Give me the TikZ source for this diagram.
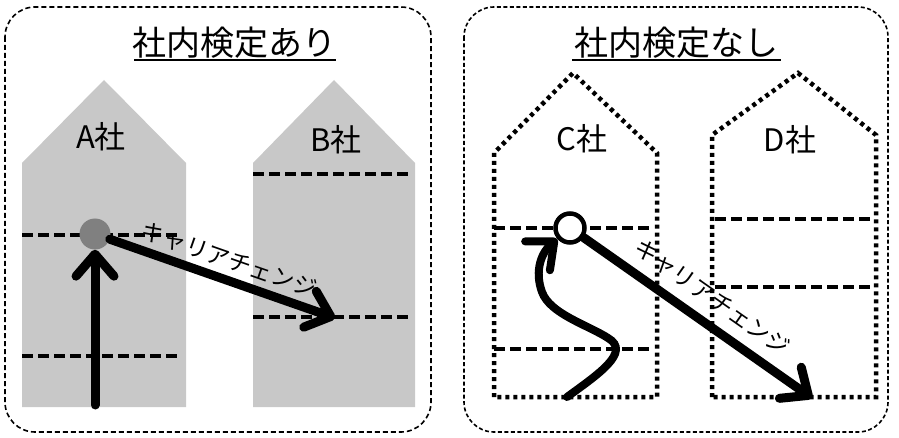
\documentclass[tikz,border=0pt]{standalone}
\usepackage{fontspec}
\setmainfont{Noto Sans CJK JP}
\usetikzlibrary{arrows.meta}
\definecolor{housegray}{HTML}{C8C8C8}
\definecolor{dotgray}{HTML}{808080}
\begin{document}
\begin{tikzpicture}[x=1pt,y=-1pt,
  panel/.style={draw=black,line width=1.6pt,dash pattern=on 5pt off 3pt,rounded corners=30pt},
  panelb/.style={draw=black,line width=1.6pt,dash pattern=on 4pt off 2.5pt,rounded corners=30pt},
  title/.style={font=\fontsize{34}{34}\selectfont,inner sep=0pt},
  house/.style={fill=housegray,draw=none},
  dhouse/.style={draw=black,line width=4.5pt,dash pattern=on 4pt off 4pt},
  level/.style={draw=black,line width=3.5pt,dash pattern=on 11pt off 5pt},
  hlabel/.style={font=\fontsize{31}{31}\selectfont,inner sep=0pt},
  thick arrow/.style={line width=9pt,line cap=round,-{Straight Barb[length=22pt,width=38pt,round]}},
  ctext/.style={font=\fontsize{23}{23}\selectfont,inner sep=2pt,sloped}
]
\useasboundingbox (0,0) rectangle (899,438);
% panels
\draw[panel] (5,7) rectangle (431,432);
\draw[panelb] (464,7) rectangle (888,432);
% titles
\node[title] (t1) at (234,43) {社内検定あり};
\draw[line width=1.8pt] (134,60) -- (336,60);
\node[title] (t2) at (676,43) {社内検定なし};
\draw[line width=1.8pt] (572,60) -- (781,60);
% left houses
\path[house] (22,407) -- (22,163) -- (104,80) -- (186,163) -- (186,407) -- cycle;
\path[house] (253,407) -- (253,163) -- (334,80) -- (415,163) -- (415,407) -- cycle;
\node[hlabel] (la) at (101,137) {A社};
\node[hlabel] (lb) at (336,140) {B社};
\draw[level] (22,235) -- (181,235);
\draw[level] (22,356) -- (180,356);
\draw[level] (253,174) -- (408,174);
\draw[level] (253,317) -- (412,317);
% right houses
\draw[dhouse] (494,397) -- (494,153) -- (573,73) -- (657,153) -- (657,397) -- cycle;
\draw[dhouse] (712,397) -- (712,135) -- (798,73) -- (876,135) -- (876,397) -- cycle;
\node[hlabel] (lc) at (582,139) {C社};
\node[hlabel] (ld) at (790,140) {D社};
\draw[level] (494,228) -- (652,228);
\draw[level] (494,349) -- (652,349);
\draw[level] (715,219) -- (873,219);
\draw[level] (715,287) -- (873,287);
% left movement
\node[circle,fill=dotgray,minimum size=31pt,inner sep=0pt] (p) at (95,234) {};
\coordinate (a0) at (95,405);
\coordinate (bt) at (335,318);
\draw[thick arrow] (a0) -- (p.south);
\draw[thick arrow] (p) -- node[ctext,above,pos=0.5,yshift=3pt] {キャリアチェンジ} (bt);
% right movement
\node[circle,draw=black,line width=4.5pt,fill=white,minimum size=29pt,inner sep=0pt] (q) at (570,228) {};
\coordinate (c0) at (567,397);
\coordinate (dt) at (812,398);
\draw[thick arrow,line width=8pt] (c0) .. controls (597,375) and (632,352) .. (608,338)
   .. controls (588,325) and (550,314) .. (542,292)
   .. controls (534,270) and (542,252) .. (q);
\draw[thick arrow] (q) -- node[ctext,above,pos=0.5,yshift=8pt] {キャリアチェンジ} (dt);
\end{tikzpicture}
\end{document}
